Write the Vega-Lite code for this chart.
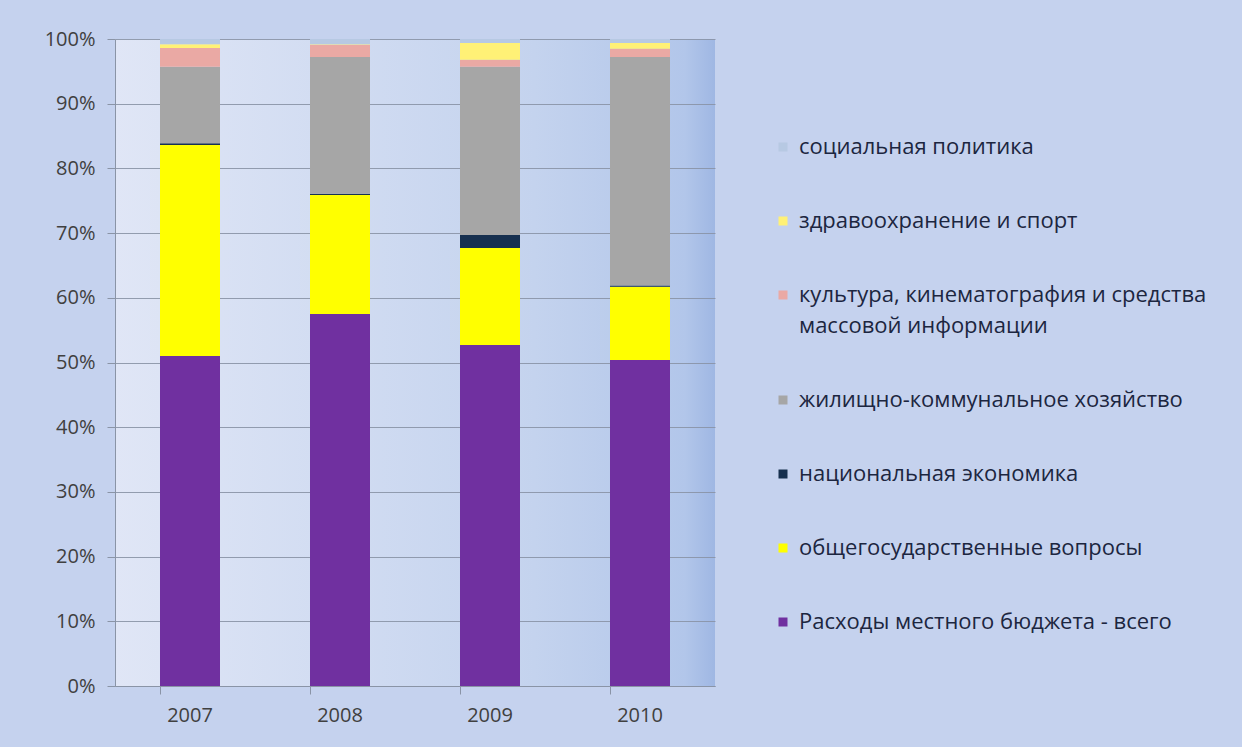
{
  "$schema": "https://vega.github.io/schema/vega-lite/v6.json",
  "width": 600,
  "height": 647,
  "padding": {"left": 44, "top": 29, "right": 35, "bottom": 23},
  "background": "#c5d2ee",
  "data": {
    "values": [
      {"year": "2007", "cat": "Расходы местного бюджета - всего", "ord": 1, "v": 51.0},
      {"year": "2007", "cat": "общегосударственные вопросы", "ord": 2, "v": 32.6},
      {"year": "2007", "cat": "национальная  экономика", "ord": 3, "v": 0.3},
      {"year": "2007", "cat": "жилищно-коммунальное хозяйство", "ord": 4, "v": 11.8},
      {"year": "2007", "cat": "культура, кинематография и средства массовой информации", "ord": 5, "v": 2.9},
      {"year": "2007", "cat": "здравоохранение и спорт", "ord": 6, "v": 0.6},
      {"year": "2007", "cat": "социальная политика", "ord": 7, "v": 0.8},
      {"year": "2008", "cat": "Расходы местного бюджета - всего", "ord": 1, "v": 57.5},
      {"year": "2008", "cat": "общегосударственные вопросы", "ord": 2, "v": 18.4},
      {"year": "2008", "cat": "национальная  экономика", "ord": 3, "v": 0.2},
      {"year": "2008", "cat": "жилищно-коммунальное хозяйство", "ord": 4, "v": 21.1},
      {"year": "2008", "cat": "культура, кинематография и средства массовой информации", "ord": 5, "v": 1.9},
      {"year": "2008", "cat": "здравоохранение и спорт", "ord": 6, "v": 0.1},
      {"year": "2008", "cat": "социальная политика", "ord": 7, "v": 0.8},
      {"year": "2009", "cat": "Расходы местного бюджета - всего", "ord": 1, "v": 52.7},
      {"year": "2009", "cat": "общегосударственные вопросы", "ord": 2, "v": 15.0},
      {"year": "2009", "cat": "национальная  экономика", "ord": 3, "v": 2.0},
      {"year": "2009", "cat": "жилищно-коммунальное хозяйство", "ord": 4, "v": 26.0},
      {"year": "2009", "cat": "культура, кинематография и средства массовой информации", "ord": 5, "v": 1.1},
      {"year": "2009", "cat": "здравоохранение и спорт", "ord": 6, "v": 2.6},
      {"year": "2009", "cat": "социальная политика", "ord": 7, "v": 0.6},
      {"year": "2010", "cat": "Расходы местного бюджета - всего", "ord": 1, "v": 50.4},
      {"year": "2010", "cat": "общегосударственные вопросы", "ord": 2, "v": 11.3},
      {"year": "2010", "cat": "национальная  экономика", "ord": 3, "v": 0.2},
      {"year": "2010", "cat": "жилищно-коммунальное хозяйство", "ord": 4, "v": 35.3},
      {"year": "2010", "cat": "культура, кинематография и средства массовой информации", "ord": 5, "v": 1.3},
      {"year": "2010", "cat": "здравоохранение и спорт", "ord": 6, "v": 0.9},
      {"year": "2010", "cat": "социальная политика", "ord": 7, "v": 0.6}
    ]
  },
  "mark": {"type": "bar"},
  "encoding": {
    "x": {
      "field": "year", "type": "ordinal",
      "scale": {"paddingInner": 0.6, "paddingOuter": 0.3},
      "axis": {
        "title": null, "labelAngle": 0, "labelFontSize": 20, "labelColor": "#404040",
        "labelFont": "Open Sans", "labelPadding": 11, "bandPosition": 0,
        "tickSize": 8, "tickColor": "#8a94a6", "domainColor": "#8a94a6"
      }
    },
    "y": {
      "field": "v", "type": "quantitative", "stack": "zero",
      "scale": {"domain": [0, 100], "nice": false},
      "axis": {
        "title": null, "values": [0,10,20,30,40,50,60,70,80,90,100],
        "labelExpr": "datum.value + '%'", "labelFontSize": 20, "labelColor": "#404040",
        "labelFont": "Open Sans", "labelPadding": 12, "tickSize": 8,
        "tickColor": "#8a94a6", "domainColor": "#8a94a6",
        "gridColor": "#8a94a6", "gridOpacity": 0.9
      }
    },
    "order": {"field": "ord", "type": "quantitative"},
    "color": {
      "field": "cat", "type": "nominal",
      "scale": {
        "domain": ["социальная политика", "здравоохранение и спорт", "культура, кинематография и средства массовой информации", "жилищно-коммунальное хозяйство", "национальная  экономика", "общегосударственные вопросы", "Расходы местного бюджета - всего"],
        "range": ["#b7c9e3", "#fff176", "#eaa9a4", "#a6a6a6", "#17304f", "#ffff00", "#7030a0"]
      },
      "legend": {
        "title": null, "orient": "none", "legendX": 657, "legendY": 97,
        "symbolType": "square", "symbolSize": 81, "symbolStrokeWidth": 0,
        "labelFontSize": 22, "labelFont": "Open Sans", "labelColor": "#1c2640",
        "rowPadding": 52, "labelLimit": 700, "labelOffset": 5,
        "labelExpr": "datum.label == 'культура, кинематография и средства массовой информации' ? ['культура, кинематография и средства', 'массовой информации'] : datum.label"
      }
    }
  },
  "config": {
    "style": {"guide-label": {"lineHeight": 31}},
    "view": {
      "stroke": null,
      "fill": {
        "gradient": "linear", "x1": 0, "y1": 0, "x2": 1, "y2": 0,
        "stops": [
          {"offset": 0, "color": "#e0e6f6"},
          {"offset": 0.7, "color": "#c4d3ee"},
          {"offset": 0.95, "color": "#b2c6ea"},
          {"offset": 1, "color": "#9fb7e3"}
        ]
      }
    }
  }
}
